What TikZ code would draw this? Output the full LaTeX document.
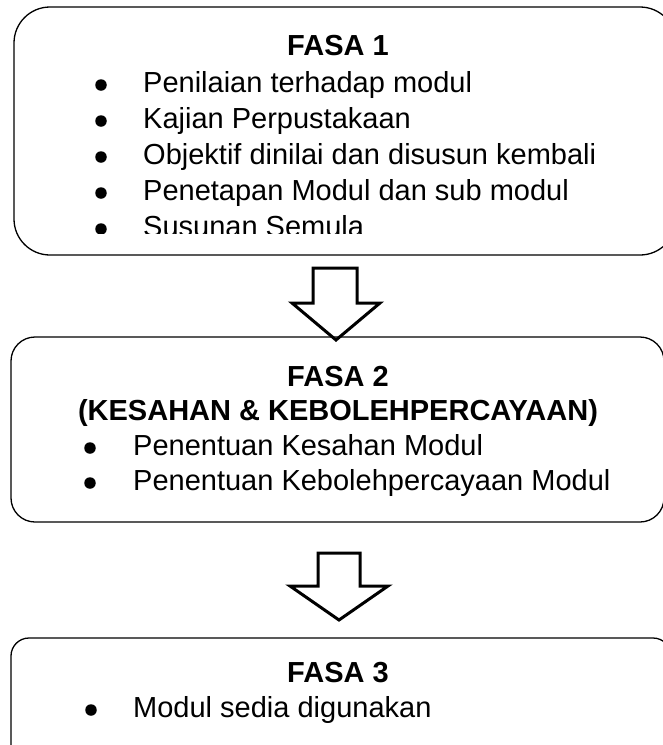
\documentclass[tikz,border=0pt]{standalone}
\usepackage{fontspec}
\setmainfont{Liberation Sans}
\begin{document}
\begin{tikzpicture}[x=1pt,y=-1pt,
  box/.style={draw, line width=1.3pt, rounded corners=#1},
  txt/.style={font=\fontsize{29}{33}\selectfont, anchor=base west, inner sep=0pt},
  bul/.style={circle, fill=black, inner sep=0pt, minimum size=11.5pt},
  head/.style={font=\fontsize{29}{33}\selectfont\bfseries, anchor=base, inner sep=0pt},
  barrow/.style={draw, line width=3pt, fill=white, line join=miter, miter limit=10}]
\useasboundingbox (0,0) rectangle (662,745);
\fill[white] (0,0) rectangle (662,745);
% Box 1
\draw[box=36] (14,7) rectangle (676,255);
\node[head] (h1) at (338,55) {FASA 1};
\begin{scope}
\clip (0,0) rectangle (662,233);
\node[bul] (b11) at (101,85) {};
\node[txt] (t11) at (143,92) {Penilaian terhadap modul};
\node[bul] (b12) at (101,121) {};
\node[txt] (t12) at (143,128) {Kajian Perpustakaan};
\node[bul] (b13) at (101,157) {};
\node[txt] (t13) at (143,164) {Objektif dinilai dan disusun kembali};
\node[bul] (b14) at (101,193) {};
\node[txt] (t14) at (143,200) {Penetapan Modul dan sub modul};
\node[bul] (b15) at (101,229) {};
\node[txt] (t15) at (143,236) {Susunan Semula};
\end{scope}
% Arrow 1
\draw[barrow] (313,268) -- (357,268) -- (357,303) -- (380,303) -- (336,340) -- (292,303) -- (313,303) -- cycle;
% Box 2
\draw[box=24] (11,337) rectangle (664,522);
\node[head] (h2) at (338,386) {FASA 2};
\node[head] (h2b) at (338,420) {(KESAHAN \& KEBOLEHPERCAYAAN)};
\node[bul] (b21) at (90,448) {};
\node[txt] (t21) at (133,455) {Penentuan Kesahan Modul};
\node[bul] (b22) at (90,483) {};
\node[txt] (t22) at (133,490) {Penentuan Kebolehpercayaan Modul};
% Arrow 2
\draw[barrow] (318,553) -- (360,553) -- (360,586) -- (388,586) -- (339,620) -- (290,586) -- (318,586) -- cycle;
% Box 3
\draw[box=18] (11,638) rectangle (671,780);
\node[head] (h3) at (338,682) {FASA 3};
\node[bul] (b31) at (91,710) {};
\node[txt] (t31) at (133,717) {Modul sedia digunakan};
\end{tikzpicture}
\end{document}
